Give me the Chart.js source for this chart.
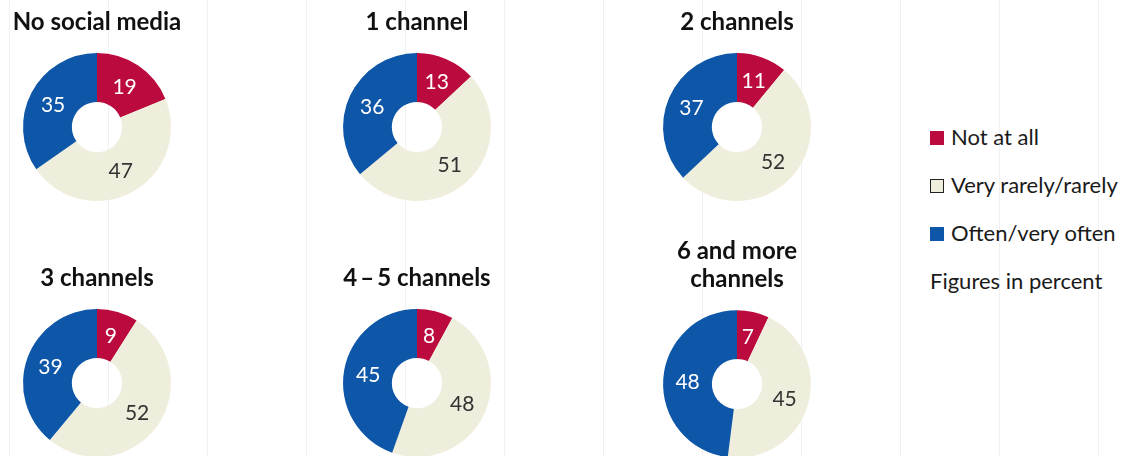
<!DOCTYPE html>
<html>
<head>
<meta charset="utf-8">
<script src="https://cdn.jsdelivr.net/npm/chart.js@4/dist/chart.umd.min.js"></script>
<style>
  html, body {
    margin: 0;
    padding: 0;
    width: 1123px;
    height: 456px;
    overflow: hidden;
    background: #fff;
    font-family: Lato, "Noto Sans", sans-serif;
  }
  /* faint vertical rules behind everything */
  #page {
    position: relative;
    width: 1123px;
    height: 456px;
    background-image: repeating-linear-gradient(to right,
      transparent 0px, transparent 9px, #f1f1f1 9px, #f1f1f1 10px, transparent 10px, transparent 99px);
  }
  .pie {
    position: absolute;
    width: 200px;
    height: 201px;
  }
  #legend {
    position: absolute;
    left: 930px;
    top: 123px;
    font-size: 22px;
    color: #1a1a1a;
  }
  #legend .row {
    height: 48px;
    display: flex;
    align-items: flex-start;
  }
  #legend .box {
    width: 14px;
    height: 14px;
    margin: 8px 7px 0 0;
    box-sizing: border-box;
  }
</style>
</head>
<body>
<div id="page">
  <div class="pie" style="left:-3px; top:0px;"><canvas id="c0"></canvas></div>
  <div class="pie" style="left:317px; top:0px;"><canvas id="c1"></canvas></div>
  <div class="pie" style="left:637px; top:0px;"><canvas id="c2"></canvas></div>
  <div class="pie" style="left:-3px; top:256px;"><canvas id="c3"></canvas></div>
  <div class="pie" style="left:317px; top:256px;"><canvas id="c4"></canvas></div>
  <div class="pie" style="left:637px; top:229px; height:229px;"><canvas id="c5"></canvas></div>
  <div id="legend"></div>
</div>
<script>
var groups = ['No social media', '1 channel', '2 channels', '3 channels', '4\u2009\u2013\u20095 channels', ['6 and more', 'channels']];
var answers = ['Not at all', 'Very rarely/rarely', 'Often/very often'];
var notAtAll = [19, 13, 11, 9, 8, 7];
var rarely = [47, 51, 52, 52, 48, 45];
var often = [35, 36, 37, 39, 45, 48];

var colors = ['#bb0a3d', '#efeedc', '#0e56a7'];
var labelColors = ['#ffffff', '#333333', '#ffffff'];

// writes each slice's value in the middle of its ring segment
var sliceValues = {
  id: 'sliceValues',
  afterDatasetsDraw: function(chart) {
    var ctx = chart.ctx;
    var meta = chart.getDatasetMeta(0);
    var data = chart.data.datasets[0].data;
    ctx.save();
    ctx.font = '21px Lato';
    ctx.textAlign = 'center';
    ctx.textBaseline = 'middle';
    meta.data.forEach(function(arc, i) {
      var p = arc.tooltipPosition();
      ctx.fillStyle = labelColors[i];
      ctx.fillText(data[i], p.x, p.y + 1);
    });
    ctx.restore();
  }
};

groups.forEach(function(name, i) {
  new Chart(document.getElementById('c' + i), {
    type: 'doughnut',
    data: {
      labels: answers,
      datasets: [{
        data: [notAtAll[i], rarely[i], often[i]],
        backgroundColor: colors,
        borderWidth: 0
      }]
    },
    options: {
      responsive: true,
      maintainAspectRatio: false,
      animation: false,
      cutout: '34%',
      layout: { padding: 0 },
      plugins: {
        legend: { display: false },
        tooltip: { enabled: false },
        title: {
          display: true,
          text: name,
          color: '#111111',
          font: { family: 'Lato', size: 24, weight: 'bold', lineHeight: 1.17 },
          padding: { top: 8, bottom: 17 }
        }
      }
    },
    plugins: [sliceValues]
  });
});

// legend on the right
var legend = document.getElementById('legend');
answers.forEach(function(a, i) {
  var row = document.createElement('div');
  row.className = 'row';
  var box = document.createElement('div');
  box.className = 'box';
  box.style.background = colors[i];
  if (i === 1) box.style.border = '1.5px solid #222';
  var txt = document.createElement('span');
  txt.textContent = a;
  row.appendChild(box);
  row.appendChild(txt);
  legend.appendChild(row);
});
var note = document.createElement('div');
note.textContent = 'Figures in percent';
legend.appendChild(note);
</script>
</body>
</html>
